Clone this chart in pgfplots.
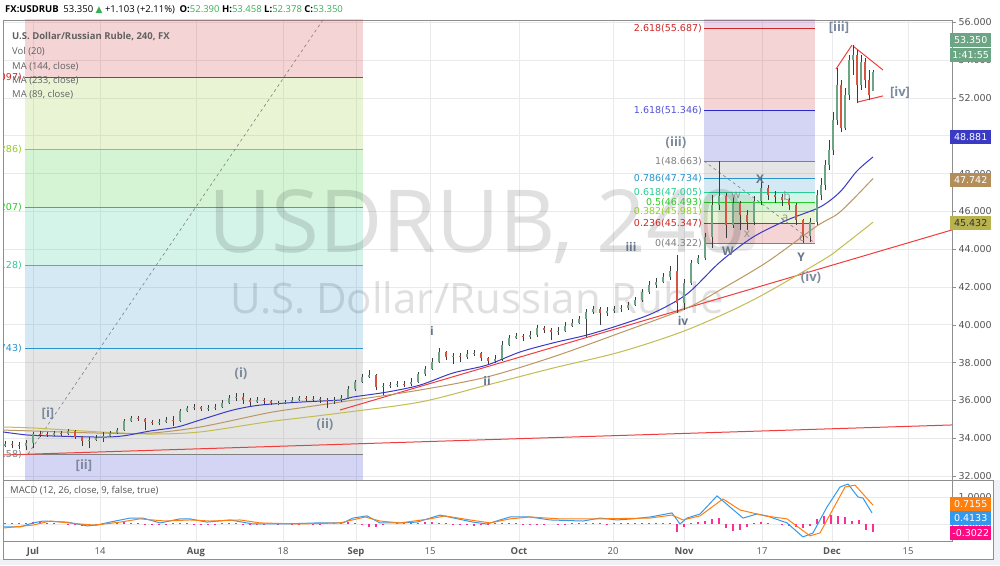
\documentclass[border=0pt]{standalone}
\usepackage{pgfplots}
\pgfplotsset{compat=1.18}
\usepackage{pgfplotstable}
\usepackage{fontspec}
\setmainfont{Open Sans}
\newfontfamily\sym{DejaVu Sans}
\newfontfamily\scalefont{DejaVu Sans}

\definecolor{gridc}{HTML}{E9EAEC}
\definecolor{framec}{HTML}{8E8E8E}
\definecolor{tickc}{HTML}{555555}
\definecolor{bgc}{HTML}{EEF1F5}
\definecolor{fgray}{HTML}{808080}
\definecolor{fred}{HTML}{CC2828}
\definecolor{fyg}{HTML}{95CC28}
\definecolor{fgreen}{HTML}{28CC28}
\definecolor{fteal}{HTML}{28CC95}
\definecolor{fblue}{HTML}{2895CC}
\definecolor{fdblue}{HTML}{2828CC}
\definecolor{fpurple}{HTML}{952895}
\definecolor{maBlue}{HTML}{3A3AC4}
\definecolor{maBrown}{HTML}{BC9660}
\definecolor{maOlive}{HTML}{C2BC52}
\definecolor{trend}{HTML}{F03C3C}
\definecolor{upc}{HTML}{6BA583}
\definecolor{dnc}{HTML}{D75442}
\definecolor{wick}{HTML}{3C3C3C}
\definecolor{wave}{HTML}{7B8A9C}
\definecolor{waved}{HTML}{66768A}
\definecolor{macdc}{HTML}{3399EE}
\definecolor{sigc}{HTML}{FF7F0E}
\definecolor{histc}{HTML}{FF0A82}
\definecolor{hdrgreen}{HTML}{3AAE55}

% fib zone: colour, x0, x1, y0, y1
\newcommand{\fibzone}[5]{\addplot[draw=none, fill=#1, fill opacity=0.2, forget plot] coordinates {(#2,#4) (#3,#4) (#3,#5) (#2,#5)} --cycle;}
\newcommand{\fibline}[4]{\addplot[#1, line width=0.9pt, forget plot] coordinates {(#2,#4) (#3,#4)};}

% 240-min candles, x = position along the (trading-time) axis
\pgfplotstableread{
x o h l c
5 33.59 33.85 33.53 33.69
12 33.69 33.85 33.48 33.64
19 33.64 33.80 33.43 33.59
26 33.59 33.90 33.37 33.74
33 33.74 34.33 33.48 34.22
40 34.22 34.38 34.06 34.20
47 34.20 34.33 34.06 34.17
54 34.17 34.38 34.12 34.27
61 34.27 34.38 34.12 34.22
68 34.22 34.49 34.18 34.38
75 34.38 34.43 33.96 34.06
82 34.06 34.12 33.59 33.85
89 33.85 34.06 33.48 33.90
96 33.90 34.17 33.85 34.01
103 34.01 34.33 33.80 34.12
110 34.12 34.38 34.08 34.27
117 34.27 34.54 34.22 34.43
124 34.43 35.01 34.38 34.91
131 34.91 35.17 34.86 35.07
138 35.07 35.17 34.91 35.01
145 35.01 35.07 34.43 34.86
152 34.86 34.96 34.70 34.80
159 34.80 35.01 34.70 34.86
166 34.86 35.12 34.80 34.96
173 34.96 35.17 34.64 34.91
180 34.91 35.54 34.86 35.44
187 35.44 35.70 35.39 35.60
194 35.60 35.81 35.49 35.65
201 35.65 35.70 35.44 35.54
208 35.54 35.75 35.44 35.60
215 35.60 35.81 35.49 35.65
222 35.65 36.02 35.60 35.86
229 35.86 36.28 35.81 36.13
236 36.13 36.39 35.97 36.16
243 36.16 36.39 35.81 36.02
250 36.02 36.13 35.70 35.91
257 35.91 36.18 35.86 36.02
264 36.02 36.13 35.81 35.97
271 35.97 36.02 35.75 35.86
278 35.86 35.97 35.75 35.88
285 35.88 36.02 35.81 35.91
292 35.91 36.18 35.88 36.02
299 36.02 36.23 35.97 36.13
306 36.13 36.23 35.97 36.07
313 36.07 36.23 35.91 36.09
320 36.09 36.18 35.86 36.02
327 36.02 36.13 35.60 35.97
334 35.97 36.18 35.81 36.02
341 36.02 36.28 35.91 36.13
348 36.13 36.76 36.07 36.60
355 36.60 37.08 36.50 36.97
362 36.97 37.40 36.92 37.24
369 37.24 37.61 37.19 37.34
376 37.34 37.40 36.55 36.71
383 36.71 36.92 36.28 36.76
390 36.76 36.97 36.66 36.81
397 36.81 37.03 36.71 36.87
404 36.87 37.03 36.71 36.85
411 36.85 37.19 36.76 36.97
418 36.97 37.50 36.92 37.40
425 37.40 37.82 37.29 37.66
432 37.66 38.24 37.61 38.03
439 38.03 38.77 37.98 38.56
446 38.56 38.60 38.14 38.30
453 38.30 38.51 37.93 38.35
460 38.35 38.51 38.03 38.30
467 38.30 38.67 38.19 38.45
474 38.45 38.67 38.35 38.51
481 38.51 38.56 38.09 38.24
488 38.24 38.30 37.93 38.09
495 38.09 38.40 37.98 38.19
502 38.19 39.14 38.09 38.93
509 38.93 39.46 38.88 39.30
516 39.30 39.57 39.25 39.41
523 39.41 39.51 39.14 39.35
530 39.35 39.67 39.25 39.46
537 39.46 39.99 39.35 39.83
544 39.83 39.94 39.57 39.73
551 39.73 39.83 39.20 39.62
558 39.62 39.88 39.46 39.67
565 39.67 40.15 39.62 39.94
572 39.94 40.31 39.88 40.10
579 40.10 40.47 40.04 40.31
586 40.31 40.84 39.35 40.68
593 40.68 40.99 40.57 40.84
600 40.84 40.94 39.99 40.62
607 40.62 40.94 40.47 40.73
614 40.73 40.99 40.62 40.84
621 40.84 41.05 40.68 40.89
628 40.89 41.21 40.78 41.05
635 41.05 41.47 40.99 41.31
642 41.31 41.89 41.21 41.73
649 41.73 42.32 41.63 42.11
656 42.11 42.48 41.95 42.26
663 42.26 42.74 42.21 42.53
670 42.53 43.11 42.37 42.85
677 42.85 43.69 40.62 41.15
684 41.15 42.42 40.78 42.21
691 42.21 43.43 42.11 43.27
698 43.27 43.69 43.22 43.53
705 43.53 44.85 43.43 44.64
712 44.64 46.87 44.06 46.33
719 46.33 48.66 46.07 46.81
726 46.81 46.95 44.59 45.28
733 45.28 46.76 45.12 46.44
740 46.44 46.55 45.02 45.81
747 45.81 46.07 45.02 45.44
754 45.44 46.81 45.28 46.55
761 46.55 47.82 46.33 47.24
768 47.24 47.40 46.60 46.87
775 46.87 47.08 46.44 46.76
782 46.76 46.92 46.28 46.60
789 46.60 46.71 46.07 46.33
796 46.33 46.44 45.28 45.54
803 45.54 45.60 44.33 44.70
810 44.70 45.65 44.38 45.44
817 45.44 47.13 45.30 46.87
821 46.87 47.77 46.60 47.40
825 47.40 48.72 47.13 48.45
829 48.45 49.78 48.19 49.25
833 49.25 51.26 48.98 50.83
837 50.83 53.59 50.57 52.69
841 52.69 52.95 50.20 50.41
845 50.41 52.53 50.30 52.16
849 52.16 54.27 51.89 54.01
853 54.01 54.80 53.22 54.27
857 54.27 54.54 51.73 52.69
861 52.69 54.27 52.42 53.90
865 53.90 54.12 52.53 52.95
869 52.95 53.48 51.89 52.16
873 52.39 53.46 52.38 53.35
}\candles

\pgfplotstableread{
x m
3 -0.11
20 -0.11
33 0.04
43 0.11
67 0.07
87 -0.07
97 -0.04
110 0.07
130 0.22
143 0.22
160 0.04
180 0.19
190 0.19
207 0.07
230 0.15
253 0.00
283 0.00
317 0.04
343 0.04
353 0.22
367 0.30
380 0.04
400 0.04
417 0.07
440 0.33
473 0.07
487 0.00
500 0.15
510 0.26
530 0.26
550 0.15
583 0.11
600 0.22
617 0.15
633 0.19
650 0.26
672 0.41
680 0.00
687 0.22
700 0.37
717 1.04
730 0.63
743 0.22
757 0.37
767 0.30
787 0.04
803 -0.48
813 -0.33
827 0.63
840 1.37
848 1.48
858 1.00
863 0.96
872 0.41
}\macdline

\pgfplotstableread{
x s
3 -0.15
33 -0.04
50 0.11
80 0.00
95 -0.04
120 0.07
140 0.19
165 0.11
190 0.15
210 0.11
240 0.15
260 0.04
300 0.00
340 0.04
365 0.26
380 0.11
400 0.04
430 0.19
445 0.30
470 0.15
490 0.04
510 0.19
530 0.26
560 0.19
600 0.19
650 0.22
672 0.33
683 0.15
700 0.30
723 0.93
740 0.52
765 0.30
787 0.19
810 -0.44
820 -0.33
845 1.37
855 1.44
873 0.70
}\signalline

\pgfplotstableread{
x h
5 0.02
12 0.03
19 0.04
26 0.05
33 0.06
40 0.08
47 0.05
54 0.03
61 0.00
68 -0.02
75 -0.05
82 -0.06
89 -0.04
96 -0.02
103 0.02
110 0.04
117 0.06
124 0.08
131 0.05
138 0.02
145 -0.03
152 -0.05
159 -0.04
166 -0.02
173 0.02
180 0.04
187 0.03
194 0.01
201 -0.02
208 -0.03
215 -0.02
222 0.02
229 0.03
236 0.02
243 -0.02
250 -0.04
257 -0.03
264 -0.01
271 0.00
278 0.01
285 0.00
292 -0.01
299 0.01
306 0.02
313 0.01
320 -0.01
327 0.02
334 0.05
341 0.07
348 0.06
355 0.04
362 -0.05
369 -0.12
376 -0.10
383 -0.05
390 0.00
397 0.02
404 0.03
411 0.04
418 0.05
425 0.06
432 0.08
439 0.05
446 0.02
453 -0.02
460 -0.04
467 -0.05
474 -0.06
481 -0.04
488 -0.02
495 0.02
502 0.04
509 0.05
516 0.03
523 0.01
530 -0.02
537 -0.03
544 -0.02
551 0.00
558 0.01
565 -0.01
572 0.02
579 0.03
586 0.02
593 0.03
600 0.02
607 0.01
614 0.02
621 0.03
628 0.04
635 0.05
642 0.04
649 0.03
656 0.02
663 0.03
670 0.02
677 -0.28
684 -0.10
691 0.05
698 0.08
705 0.12
712 0.18
719 0.22
726 -0.15
733 -0.25
740 -0.22
747 -0.12
754 0.02
761 0.06
768 0.02
775 0.00
782 -0.03
789 -0.08
796 -0.12
803 -0.14
810 -0.06
817 0.18
824 0.28
831 0.32
838 0.30
845 0.25
852 0.12
859 0.15
866 -0.22
873 -0.30
}\histo

\begin{document}
\begin{tikzpicture}[x=1pt,y=1pt]
\useasboundingbox (0,0) rectangle (1000,565);
\fill[white] (0,0) rectangle (1000,565);
\fill[bgc] (0,0) rectangle (1000,6);
\fill[bgc] (993,0) rectangle (1000,85);

% ---------------- price panel ----------------
\begin{axis}[
    at={(3pt,85pt)}, anchor=south west, scale only axis,
    width=949pt, height=460pt,
    xmin=3, xmax=952, ymin=31.788, ymax=56.127,
    axis line style={draw=framec},
    xtick={33,100,196,283,356,430,519,613,684,762,832,908},
    xticklabels={}, x tick style={draw=none},
    ytick={32,34,...,56}, ytick pos=right, yticklabel pos=right,
    tick align=outside, major tick length=4pt,
    y tick style={draw=framec},
    yticklabel style={font=\scalefont\fontsize{9.5}{10}\selectfont, text=tickc, xshift=-1pt,
        /pgf/number format/.cd, fixed, fixed zerofill, precision=3, assume math mode=true},
    xmajorgrids, ymajorgrids, grid style={draw=gridc, line width=0.6pt},
    clip=true,
]
% left Fibonacci retracement
\fibzone{fred}{25}{363}{53.097}{59.25}
\fibzone{fyg}{25}{363}{49.286}{53.097}
\fibzone{fgreen}{25}{363}{46.207}{49.286}
\fibzone{fteal}{25}{363}{43.128}{46.207}
\fibzone{fblue}{25}{363}{38.743}{43.128}
\fibzone{fgray}{25}{363}{33.158}{38.743}
\fibzone{fdblue}{25}{363}{17.03}{33.158}
\fibline{fred}{25}{363}{53.097}
\fibline{fyg}{25}{363}{49.286}
\fibline{fgreen}{25}{363}{46.207}
\fibline{fteal}{25}{363}{43.128}
\fibline{fblue}{25}{363}{38.743}
\fibline{fgray}{25}{363}{33.158}
% right Fibonacci retracement
\fibzone{fred}{704}{815}{44.322}{45.347}
\fibzone{fyg}{704}{815}{45.347}{45.981}
\fibzone{fgreen}{704}{815}{45.981}{46.493}
\fibzone{fteal}{704}{815}{46.493}{47.005}
\fibzone{fblue}{704}{815}{47.005}{47.734}
\fibzone{fgray}{704}{815}{47.734}{48.663}
\fibzone{fdblue}{704}{815}{48.663}{51.346}
\fibzone{fred}{704}{815}{51.346}{55.687}
\fibzone{fpurple}{704}{815}{55.687}{60.03}
\fibline{fgray}{704}{815}{44.322}
\fibline{fred}{704}{815}{45.347}
\fibline{fyg}{704}{815}{45.981}
\fibline{fgreen}{704}{815}{46.493}
\fibline{fteal}{704}{815}{47.005}
\fibline{fblue}{704}{815}{47.734}
\fibline{fgray}{704}{815}{48.663}
\fibline{fdblue}{704}{815}{51.346}
\fibline{fred}{704}{815}{55.687}

% watermark
\node[anchor=base, font=\fontsize{87}{87}\selectfont, text=black, text opacity=0.12, inner sep=0]
  at (axis cs:477,43.85) {USDRUB, 240};
\node[anchor=base, font=\fontsize{42}{42}\selectfont, text=black, text opacity=0.12, inner sep=0]
  at (axis cs:477,40.62) {U.S. Dollar/Russian Ruble};

% fib trend lines
\addplot[fgray, dashed, line width=0.6pt, forget plot] coordinates {(28,33.158) (363,59.25)};
\addplot[fgray, dashed, line width=0.6pt, forget plot] coordinates {(704,48.663) (815,44.322)};

% highlighter under W
\fill[black, opacity=0.07, rounded corners=10pt] (axis cs:718,46.9) rectangle (axis cs:755,43.9);

% trend lines
\addplot[trend, line width=1pt] coordinates {(3,33.11) (952,34.70)};
\addplot[trend, line width=1pt] coordinates {(340,35.49) (952,45.02)};
\addplot[trend, line width=1pt] coordinates {(836,53.53) (852,54.80)};
\addplot[trend, line width=1pt] coordinates {(853,54.75) (883,53.48)};
\addplot[trend, line width=1pt] coordinates {(858,51.79) (883,52.11)};

% moving averages
\addplot[maOlive, line width=1pt, smooth] coordinates {(3,34.59)(33,34.54)(100,34.33)(150,34.22)(200,34.33)(267,34.86)(300,35.07)(340,35.33)(420,35.91)(487,36.81)(553,37.71)(620,38.56)(687,39.73)(753,41.31)(823,43.43)(840,44.06)(873,45.43)};
\addplot[maBrown, line width=1pt, smooth] coordinates {(3,34.43)(33,34.38)(100,34.27)(150,34.27)(200,34.59)(267,35.33)(300,35.60)(340,35.91)(420,36.55)(487,37.24)(553,38.30)(620,39.57)(687,40.89)(720,41.84)(767,43.32)(817,45.23)(840,45.97)(873,47.74)};
\addplot[maBlue, line width=1pt, smooth] coordinates {(3,34.33)(27,34.17)(50,34.12)(100,34.06)(123,34.12)(150,34.38)(177,34.59)(200,34.96)(233,35.49)(260,35.75)(300,35.91)(340,36.02)(353,36.18)(387,36.44)(420,36.81)(453,37.45)(487,37.87)(520,38.56)(553,39.04)(587,39.46)(620,39.99)(653,40.62)(687,41.63)(720,43.32)(753,44.64)(787,45.54)(820,46.23)(840,47.03)(857,48.14)(873,48.88)};

% candles: wicks, then bodies
\addplot[draw=none, mark=none, forget plot, error bars/.cd, y dir=plus, y explicit, error mark=none,
    error bar style={line width=0.6pt, draw=wick}]
    table[x=x, y=l, y error plus expr=\thisrow{h}-\thisrow{l}] {\candles};
\addplot[draw=none, mark=none, forget plot, unbounded coords=discard, error bars/.cd, y dir=plus, y explicit, error mark=none,
    error bar style={line width=2.2pt, draw=upc}]
    table[x=x, y expr={\thisrow{c}>=\thisrow{o} ? \thisrow{o} : nan}, y error plus expr=\thisrow{c}-\thisrow{o}] {\candles};
\addplot[draw=none, mark=none, forget plot, unbounded coords=discard, error bars/.cd, y dir=plus, y explicit, error mark=none,
    error bar style={line width=2.2pt, draw=dnc}]
    table[x=x, y expr={\thisrow{c}<\thisrow{o} ? \thisrow{c} : nan}, y error plus expr=\thisrow{o}-\thisrow{c}] {\candles};

% fib labels
\begin{scope}[every node/.style={anchor=east, inner sep=0, font=\scalefont\fontsize{9.5}{10}\selectfont}]
\node[text=fred] at (axis cs:22,53.097) {0.236(53.097)};
\node[text=fyg] at (axis cs:22,49.286) {0.382(49.286)};
\node[text=fgreen] at (axis cs:22,46.207) {0.5(46.207)};
\node[text=fteal] at (axis cs:22,43.128) {0.618(43.128)};
\node[text=fblue] at (axis cs:22,38.743) {0.786(38.743)};
\node[text=fgray] at (axis cs:22,33.158) {1(33.158)};
\node[text=fred] at (axis cs:702,55.687) {2.618(55.687)};
\node[text=fdblue!80] at (axis cs:702,51.346) {1.618(51.346)};
\node[text=fgray] at (axis cs:702,48.663) {1(48.663)};
\node[text=fblue] at (axis cs:702,47.734) {0.786(47.734)};
\node[text=fteal] at (axis cs:702,47.005) {0.618(47.005)};
\node[text=fgreen] at (axis cs:702,46.493) {0.5(46.493)};
\node[text=fyg] at (axis cs:702,45.981) {0.382(45.981)};
\node[text=fred] at (axis cs:702,45.347) {0.236(45.347)};
\node[text=fgray] at (axis cs:702,44.322) {0(44.322)};
\end{scope}

% wave labels
\begin{scope}[every node/.style={inner sep=0, font=\bfseries\fontsize{13}{13}\selectfont, text=wave}]
\node at (axis cs:48,35.28) {[i]};
\node at (axis cs:84,32.53) {[ii]};
\node at (axis cs:241,37.40) {(i)};
\node at (axis cs:325,34.70) {(ii)};
\node at (axis cs:676,49.62) {(iii)};
\node at (axis cs:811,42.48) {(iv)};
\node at (axis cs:839,55.70) {[iii]};
\node at (axis cs:900,52.26) {[iv]};
\end{scope}
\begin{scope}[every node/.style={inner sep=0, font=\bfseries\fontsize{12}{12}\selectfont, text=waved}]
\node at (axis cs:432,39.70) {i};
\node at (axis cs:487,37.03) {ii};
\node at (axis cs:631,44.12) {iii};
\node at (axis cs:683,40.20) {iv};
\node at (axis cs:728,43.90) {W};
\node at (axis cs:760,47.71) {X};
\node at (axis cs:801,43.59) {Y};
\end{scope}
\begin{scope}[every node/.style={inner sep=0, font=\fontsize{12}{12}\selectfont, text=gray, text opacity=0.8}]
\node at (axis cs:736,46.87) {w};
\node at (axis cs:747,44.80) {x};
\node at (axis cs:787,46.81) {b};
\node at (axis cs:785,45.65) {a};
\node at (axis cs:802,44.59) {c};
\end{scope}
\end{axis}

% ---------------- MACD panel ----------------
\begin{axis}[
    at={(3pt,24pt)}, anchor=south west, scale only axis,
    width=949pt, height=61pt,
    xmin=3, xmax=952, ymin=-0.63, ymax=1.63,
    axis line style={draw=framec},
    xtick={33,100,196,283,356,430,519,613,684,762,832,908},
    xticklabels={\textbf{Jul},14,\textbf{Aug},18,\textbf{Sep},15,\textbf{Oct},20,\textbf{Nov},17,\textbf{Dec},15},
    x tick style={draw=none},
    xticklabel style={font=\fontsize{9.5}{10}\selectfont, text=tickc, yshift=1pt},
    ytick={0,1}, ytick pos=right, yticklabel pos=right,
    tick align=outside, major tick length=4pt, y tick style={draw=framec},
    yticklabel style={font=\scalefont\fontsize{9.5}{10}\selectfont, text=tickc, xshift=-1pt,
        /pgf/number format/.cd, fixed, fixed zerofill, precision=4, assume math mode=true},
    xmajorgrids, ymajorgrids, grid style={draw=gridc, line width=0.6pt},
]
\addplot[ycomb, histc, line width=2.4pt, opacity=0.85, mark=none] table[x=x, y=h] {\histo};
\addplot[macdc, line width=1pt] table[x=x, y=m] {\macdline};
\addplot[sigc, line width=1pt] table[x=x, y=s] {\signalline};
\node[anchor=base west, inner sep=0, font=\fontsize{9.5}{10}\selectfont, text=tickc]
  at (axis cs:10,1.13) {MACD (12, 26, close, 9, false, true)};
\end{axis}

% outer frame of the lower part
\draw[framec] (3,6) -- (993,6) -- (993,85) -- (952,85);
\draw[framec] (3,6) -- (3,24);

% header
\node[anchor=base west, inner sep=0, font=\fontsize{9.5}{11}\selectfont] at (5,552)
  {\textbf{FX:USDRUB}\enspace 53.350 {\sym\color{hdrgreen}\fontsize{9}{9}\selectfont ▲} +1.103 (+2.11\%)\enspace
   \textbf{O:}\textcolor{hdrgreen}{52.390} \textbf{H:}\textcolor{hdrgreen}{53.458}
   \textbf{L:}\textcolor{hdrgreen}{52.378} \textbf{C:}\textcolor{hdrgreen}{53.350}};

% study legend
\begin{scope}[every node/.style={anchor=base west, inner sep=0, font=\fontsize{9.5}{10}\selectfont, text=black!62}]
\node[font=\bfseries\fontsize{9.5}{10}\selectfont] at (12,525.5) {U.S. Dollar/Russian Ruble, 240, FX};
\node at (12,510.5) {Vol (20)};
\node at (12,495.5) {MA (144, close)};
\node at (12,481.5) {MA (233, close)};
\node at (12,467.5) {MA (89, close)};
\end{scope}

% last-value labels on the scales
\begin{scope}[every node/.style={anchor=west, inner sep=0, minimum width=41pt, minimum height=14pt, font=\scalefont\fontsize{9.5}{10}\selectfont, text=white}]
\node[fill=upc] at (950,525) {53.350};
\node[fill=upc] at (950,510) {1:41:55};
\node[fill=maBlue] at (950,428) {48.881};
\node[fill=maBrown!95!black] at (950,385) {47.742};
\node[fill=maOlive!95!black, text=black!80] at (950,342) {45.432};
\node[fill=sigc] at (950,61) {0.7155};
\node[fill=macdc] at (950,47) {0.4133};
\node[fill=histc] at (950,32) {-0.3022};
\end{scope}
\end{tikzpicture}
\end{document}
